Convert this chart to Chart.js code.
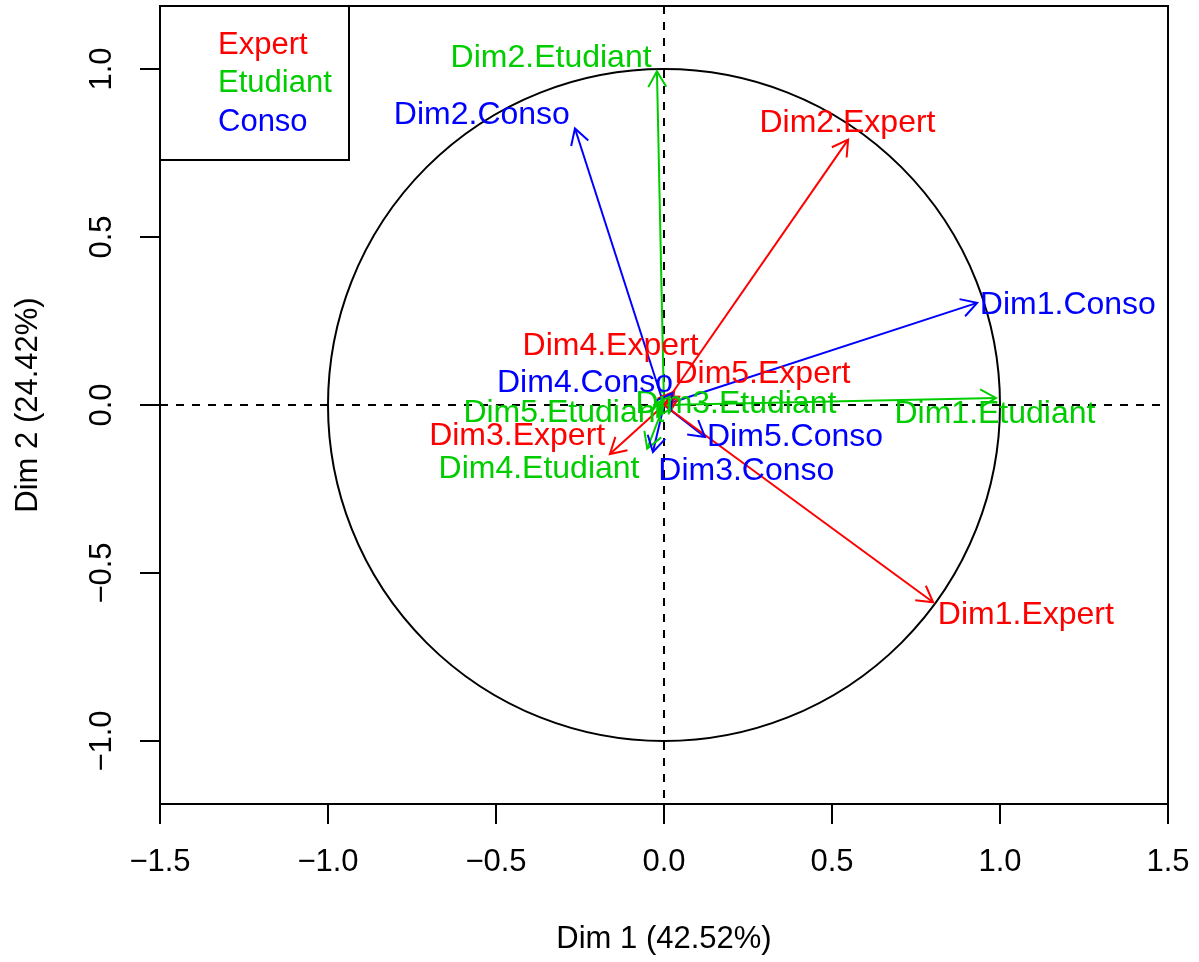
<!DOCTYPE html>
<html lang="fr">
<head>
<meta charset="UTF-8">
<title>Cercle des corrélations</title>
<script src="https://cdn.jsdelivr.net/npm/chart.js@4"></script>
<style>
    body { margin: 0; background: #ffffff; }
    canvas { display: block; }
</style>
</head>
<body>
<canvas id="corCircle" width="1199" height="962"></canvas>
<script>
// groups and their partial axes
var groupNames = ['Expert', 'Etudiant', 'Conso'];
var groupColors = ['#FF0000', '#00CD00', '#0000FF'];
var dimNames = ['Dim1', 'Dim2', 'Dim3', 'Dim4', 'Dim5'];

// arrow tips (coordinates on Dim 1 / Dim 2)
var expertX = [0.801, 0.548, -0.161, 0.030, 0.045];
var expertY = [-0.587, 0.790, -0.146, 0.040, 0.025];
var etudiantX = [0.988, -0.021, 0.015, -0.050, -0.020];
var etudiantY = [0.021, 0.993, 0.025, -0.130, -0.035];
var consoX = [0.932, -0.265, -0.033, 0.025, 0.122];
var consoY = [0.304, 0.823, -0.140, 0.035, -0.095];

// where the labels ended up (same units)
var expertLabX = [1.077, 0.546, -0.437, -0.159, 0.293];
var expertLabY = [-0.626, 0.840, -0.092, 0.176, 0.092];
var etudiantLabX = [0.985, -0.336, 0.214, -0.372, -0.298];
var etudiantLabY = [-0.027, 1.031, 0.003, -0.191, -0.024];
var consoLabX = [1.202, -0.542, 0.245, -0.235, 0.390];
var consoLabY = [0.298, 0.864, -0.197, 0.066, -0.097];

var xTicks = [-1.5, -1.0, -0.5, 0.0, 0.5, 1.0, 1.5];
var yTicks = [-1.0, -0.5, 0.0, 0.5, 1.0];
var xTitle = 'Dim 1 (42.52%)';
var yTitle = 'Dim 2 (24.42%)';

var FONT = '"Liberation Sans", Arial, Helvetica, sans-serif';

var tipsX = [expertX, etudiantX, consoX];
var tipsY = [expertY, etudiantY, consoY];
var labsX = [expertLabX, etudiantLabX, consoLabX];
var labsY = [expertLabY, etudiantLabY, consoLabY];

var datasets = [];
groupNames.forEach(function (g, gi) {
    dimNames.forEach(function (d, di) {
        datasets.push({
            label: d + '.' + g,
            data: [{x: 0, y: 0}, {x: tipsX[gi][di], y: tipsY[gi][di]}],
            showLine: true,
            borderColor: groupColors[gi],
            borderWidth: 2,
            pointRadius: 0,
            fill: false,
            labX: labsX[gi][di],
            labY: labsY[gi][di]
        });
    });
});

function fmt(v) {
    return (v < 0 ? '\u2212' : '') + Math.abs(v).toFixed(1);
}

var rPlot = {
    id: 'rPlot',
    beforeDraw: function (chart) {
        var c = chart.ctx;
        c.save();
        c.fillStyle = '#ffffff';
        c.fillRect(0, 0, chart.width, chart.height);
        c.restore();
    },
    beforeDatasetsDraw: function (chart) {
        var c = chart.ctx, a = chart.chartArea;
        var xs = chart.scales.x, ys = chart.scales.y;
        var ox = xs.getPixelForValue(0), oy = ys.getPixelForValue(0);
        c.save();
        // unit circle
        c.strokeStyle = '#000';
        c.lineWidth = 2;
        c.beginPath();
        c.arc(ox, oy, xs.getPixelForValue(1) - ox, 0, 2 * Math.PI);
        c.stroke();
        // dashed axes through the origin
        c.setLineDash([8, 8]);
        c.beginPath();
        c.moveTo(a.left, oy); c.lineTo(a.right, oy);
        c.moveTo(ox, a.top); c.lineTo(ox, a.bottom);
        c.stroke();
        c.restore();
    },
    afterDatasetsDraw: function (chart) {
        var c = chart.ctx, a = chart.chartArea;
        var xs = chart.scales.x, ys = chart.scales.y;
        c.save();
        // arrow heads
        chart.data.datasets.forEach(function (ds) {
            var x0 = xs.getPixelForValue(ds.data[0].x), y0 = ys.getPixelForValue(ds.data[0].y);
            var x1 = xs.getPixelForValue(ds.data[1].x), y1 = ys.getPixelForValue(ds.data[1].y);
            var ang = Math.atan2(y1 - y0, x1 - x0);
            var L = 18;
            c.strokeStyle = ds.borderColor;
            c.lineWidth = 2;
            c.beginPath();
            c.moveTo(x1 - L * Math.cos(ang - Math.PI / 6), y1 - L * Math.sin(ang - Math.PI / 6));
            c.lineTo(x1, y1);
            c.lineTo(x1 - L * Math.cos(ang + Math.PI / 6), y1 - L * Math.sin(ang + Math.PI / 6));
            c.stroke();
        });
        // labels
        c.font = '32px ' + FONT;
        c.textAlign = 'center';
        c.textBaseline = 'middle';
        chart.data.datasets.forEach(function (ds) {
            c.fillStyle = ds.borderColor;
            c.fillText(ds.label, xs.getPixelForValue(ds.labX), ys.getPixelForValue(ds.labY));
        });
        // box around the plot
        c.strokeStyle = '#000';
        c.lineWidth = 2;
        c.strokeRect(a.left, a.top, a.right - a.left, a.bottom - a.top);
        // legend, top left
        c.strokeRect(a.left, a.top, 189, 154);
        c.font = '31px ' + FONT;
        c.textAlign = 'left';
        groupNames.forEach(function (g, i) {
            c.fillStyle = groupColors[i];
            c.fillText(g, a.left + 58, a.top + 39 + i * 38.5);
        });
        // y tick labels, parallel to the axis
        c.fillStyle = '#000';
        c.textAlign = 'center';
        yTicks.forEach(function (v) {
            c.save();
            c.translate(102, ys.getPixelForValue(v));
            c.rotate(-Math.PI / 2);
            c.fillText(fmt(v), 0, 0);
            c.restore();
        });
        c.restore();
    }
};

var ctx = document.getElementById('corCircle').getContext('2d');
var corChart = new Chart(ctx, {
    type: 'scatter',
    data: { datasets: datasets },
    options: {
        responsive: false,
        animation: false,
        devicePixelRatio: 1,
        layout: { padding: { left: 0, top: 6, right: 31, bottom: 0 } },
        plugins: {
            legend: { display: false },
            tooltip: { enabled: false }
        },
        scales: {
            x: {
                type: 'linear',
                min: -1.5,
                max: 1.5,
                afterBuildTicks: function (s) { s.ticks = xTicks.map(function (v) { return {value: v}; }); },
                afterFit: function (s) { s.height = 158; s.paddingLeft = 0; s.paddingRight = 0; },
                border: { display: false },
                grid: { drawOnChartArea: false, drawTicks: true, tickLength: 20, color: '#000', lineWidth: 2 },
                ticks: {
                    color: '#000',
                    padding: 20,
                    font: { family: FONT, size: 31 },
                    maxRotation: 0,
                    autoSkip: false,
                    callback: function (v) { return fmt(v); }
                },
                title: {
                    display: true,
                    text: xTitle,
                    color: '#000',
                    font: { family: FONT, size: 31 },
                    padding: { top: 0, bottom: 4 }
                }
            },
            y: {
                type: 'linear',
                min: -1.1875,
                max: 1.1875,
                afterBuildTicks: function (s) { s.ticks = yTicks.map(function (v) { return {value: v}; }); },
                afterFit: function (s) { s.width = 160; s.paddingTop = 0; s.paddingBottom = 0; },
                border: { display: false },
                grid: { drawOnChartArea: false, drawTicks: true, tickLength: 20, color: '#000', lineWidth: 2 },
                ticks: { display: false },
                title: {
                    display: true,
                    text: yTitle,
                    color: '#000',
                    font: { family: FONT, size: 31 },
                    padding: { top: 10, bottom: 0 }
                }
            }
        }
    },
    plugins: [rPlot]
});
</script>
</body>
</html>
